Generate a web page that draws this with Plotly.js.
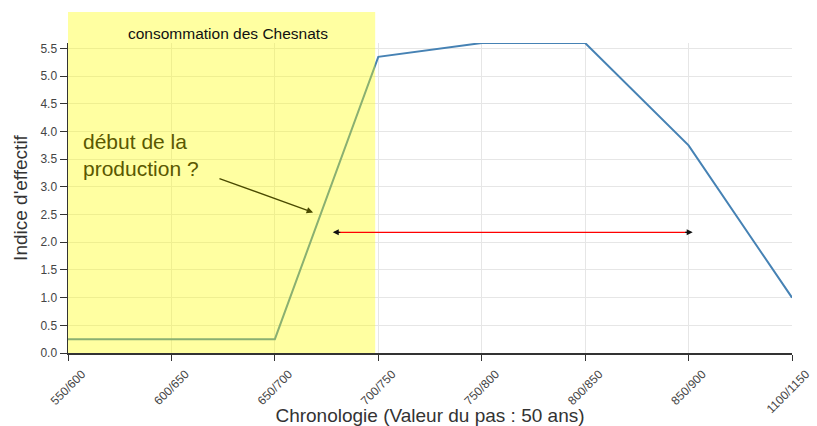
<!DOCTYPE html>
<html><head><meta charset="utf-8">
<script src="https://cdn.plot.ly/plotly-3.0.1.min.js"></script>
<style>html,body{margin:0;padding:0;background:#fff}</style>
</head><body><div id="chart" style="width:817px;height:426px"></div>
<script>
var categories = ["550/600","600/650","650/700","700/750","750/800","800/850","850/900","1100/1150"];
var effectif = [0.25, 0.25, 0.25, 5.35, 5.6, 5.6, 3.75, 1.0];
var shadeLabel = "consommation des Chesnats";
var noteText = "début de la<br>production ?";
var xIdx = categories.map(function(_, i){ return i; });

var trace = {
  x: xIdx, y: effectif, type: "scatter", mode: "lines",
  line: {color: "#4682b4", width: 2}, hoverinfo: "skip"
};

var layout = {
  width: 817, height: 426,
  margin: {l: 68, r: 25, t: 43, b: 73},
  paper_bgcolor: "#fff", plot_bgcolor: "#fff",
  font: {family: "Liberation Sans, Arial, sans-serif", color: "#333"},
  showlegend: false,
  xaxis: {
    range: [0, 7], tickvals: xIdx, ticktext: categories, tickangle: -45,
    tickfont: {size: 12, color: "#444"}, ticks: "outside", ticklen: 6, tickcolor: "#333",
    ticklabelshift: 14, ticklabelstandoff: 2,
    showline: true, linecolor: "#333", linewidth: 1.5,
    showgrid: true, gridcolor: "#e6e6e6", zeroline: false,
    title: {text: "Chronologie (Valeur du pas : 50 ans)", font: {size: 19, color: "#333"}, standoff: 4}
  },
  yaxis: {
    range: [0, 5.6], dtick: 0.5, tickformat: ".1f",
    tickfont: {size: 12, color: "#444"}, ticks: "outside", ticklen: 7, tickcolor: "#333",
    showline: true, linecolor: "#333", linewidth: 1.5,
    showgrid: true, gridcolor: "#e6e6e6", zeroline: false,
    title: {text: "Indice d'effectif", font: {size: 19, color: "#333"}, standoff: 8}
  },
  shapes: [
    {type: "rect", layer: "above", xref: "x", yref: "paper", x0: 0, x1: 2.97, y0: 0, y1: 1.10,
     fillcolor: "rgba(255,255,0,0.37)", line: {width: 0}},
    {type: "line", xref: "x", yref: "y", x0: 2.6, x1: 6.0, y0: 2.18, y1: 2.18,
     line: {color: "#ff0000", width: 1.2}}
  ],
  annotations: [
    {xref: "x", yref: "paper", x: 1.55, y: 1.065, text: shadeLabel, showarrow: false,
     font: {size: 15.5, color: "#111"}},
    {xref: "x", yref: "y", x: 0.14, y: 3.57, text: noteText, showarrow: false,
     xanchor: "left", yanchor: "middle", align: "left", borderpad: 0,
     font: {size: 21, color: "#5a5800"}},
    {xref: "x", yref: "y", axref: "x", ayref: "y", x: 2.37, y: 2.54, ax: 1.45, ay: 3.16,
     text: "", showarrow: true, arrowhead: 2, arrowsize: 1, arrowwidth: 1.3, arrowcolor: "#4a4a00"},
    {xref: "x", yref: "y", x: 2.56, y: 2.18, ax: 9, ay: 0, text: "", showarrow: true,
     arrowhead: 2, arrowsize: 1, arrowwidth: 1.2, arrowcolor: "#111"},
    {xref: "x", yref: "y", x: 6.04, y: 2.18, ax: -9, ay: 0, text: "", showarrow: true,
     arrowhead: 2, arrowsize: 1, arrowwidth: 1.2, arrowcolor: "#111"}
  ]
};

Plotly.newPlot("chart", [trace], layout, {displayModeBar: false, staticPlot: true});
</script></body></html>
